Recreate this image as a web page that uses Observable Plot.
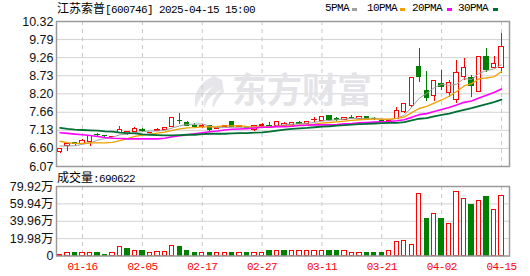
<!DOCTYPE html>
<html><head><meta charset="utf-8">
<script src="https://cdn.jsdelivr.net/npm/d3@7"></script>
<script src="https://cdn.jsdelivr.net/npm/@observablehq/plot@0.6"></script>
<style>
html,body{margin:0;padding:0;background:#fff;}
#wrap{position:relative;width:530px;height:276px;overflow:hidden;background:#fff;}
.abs{position:absolute;white-space:nowrap;line-height:14px;color:#000;z-index:4;}
.mono{font-family:"Liberation Mono",monospace;font-size:11px;letter-spacing:-0.6px;}
.cjk{font-family:"Noto Sans CJK SC",sans-serif;font-size:12px;}
.sw{position:absolute;width:5px;height:3px;top:8px;z-index:4;}
#p1,#p2{position:absolute;left:0;}
#p1{top:0;z-index:3}#p2{top:170px;z-index:2}
#p1 svg,#p2 svg{display:block;background:transparent !important;}
#logo{position:absolute;left:0;top:0;z-index:1;}
#p2 g[aria-label="x-axis tick label"] text{letter-spacing:-0.6px;}
</style></head>
<body>
<div id="wrap">
  <svg id="logo" width="530" height="276"><path d="M214,76 C200,82 192,94 196,108 C199,98 205,90 214,86 C206,92 202,100 204,108 C208,98 214,92 222,90 C214,96 211,102 213,108 C218,98 222,94 224,92 L222,80 Z" fill="#e6e6ea"/></svg>
  <div class="abs" style="left:57px;top:1px;"><span class="cjk">江苏索普</span><span class="mono">[600746] 2025-04-15 15:00</span></div>
  <div class="abs mono" style="left:325px;top:1px;">5PMA</div><div class="sw" style="left:352px;background:#a0a0a0"></div>
  <div class="abs mono" style="left:367px;top:1px;">10PMA</div><div class="sw" style="left:400px;background:#f0a000"></div>
  <div class="abs mono" style="left:412px;top:1px;">20PMA</div><div class="sw" style="left:447px;background:#ff00ff"></div>
  <div class="abs mono" style="left:458px;top:1px;">30PMA</div><div class="sw" style="left:493px;background:#006f35"></div>
  <div class="abs" style="left:57px;top:170px;"><span class="cjk">成交量</span><span class="mono">:690622</span></div>
  <div id="p1"></div>
  <div id="p2"></div>
</div>
<script>
const dates = ["01-13","01-14","01-15","01-16","01-17","01-20","01-21","01-22","01-23","01-24","01-27",
"02-05","02-06","02-07","02-10","02-11","02-12","02-13","02-14","02-17","02-18","02-19","02-20","02-21","02-24","02-25","02-26","02-27","02-28",
"03-03","03-04","03-05","03-06","03-07","03-10","03-11","03-12","03-13","03-14","03-17","03-18","03-19","03-20","03-21","03-24","03-25","03-26","03-27","03-28","03-31",
"04-01","04-02","04-03","04-07","04-08","04-09","04-10","04-11","04-14","04-15"];
const tickDates = ["01-16","02-05","02-17","02-27","03-11","03-21","04-02","04-15"];
const priceTicks = [6.07,6.60,7.13,7.66,8.20,8.73,9.26,9.79,10.32];
const volTicks = [0,199800,399600,599400,799200];

const open  = [6.49,6.67,6.76,6.74,6.79,6.99,6.97,6.93,7.06,7.03, 7.08,7.13,7.05,7.11,7.15,7.24,7.41,7.35,7.27,7.24,
               7.27,7.18,7.22,7.36,7.22,7.19,7.15,7.27,7.26,7.25, 7.27,7.29,7.34,7.33,7.42,7.39,7.56,7.45,7.44,7.50,
               7.47,7.52,7.47,7.40,7.34,7.45,7.66,7.83,9.00,8.29, 8.14,8.50,8.22,8.03,8.69,8.67,8.25,9.29,8.95,8.95];
const close = [6.59,6.73,6.73,6.81,6.96,6.98,6.96,6.94,7.15,7.07, 7.16,7.11,7.06,7.15,7.19,7.50,7.39,7.25,7.22,7.25,
               7.15,7.19,7.26,7.23,7.27,7.17,7.25,7.28,7.25,7.36, 7.32,7.34,7.33,7.37,7.43,7.51,7.44,7.44,7.50,7.49,
               7.51,7.47,7.46,7.37,7.40,7.71,7.89,8.67,8.69,8.08, 8.58,8.39,8.51,8.82,8.96,8.44,9.29,8.90,9.06,9.58];
const high  = [6.60,6.74,6.77,6.86,6.96,7.03,6.97,6.95,7.24,7.07, 7.22,7.19,7.06,7.19,7.22,7.52,7.63,7.40,7.32,7.30,
               7.27,7.19,7.27,7.36,7.27,7.21,7.25,7.34,7.36,7.36, 7.36,7.37,7.39,7.38,7.51,7.51,7.56,7.51,7.50,7.56,
               7.51,7.55,7.51,7.45,7.40,7.81,7.93,8.67,9.54,8.85, 8.58,8.88,8.59,9.18,9.23,8.74,9.29,9.54,9.30,9.98];
const low   = [6.46,6.52,6.67,6.74,6.67,6.93,6.92,6.93,7.06,6.98, 7.08,7.06,7.05,7.11,7.12,7.24,7.30,7.25,7.22,7.17,
               7.10,7.15,7.22,7.23,7.22,7.15,7.10,7.20,7.24,7.25, 7.27,7.29,7.30,7.33,7.37,7.39,7.40,7.40,7.44,7.44,
               7.47,7.47,7.43,7.37,7.34,7.45,7.61,7.79,8.52,7.98, 7.98,8.30,8.08,7.91,8.59,8.10,8.25,8.83,8.93,8.79];
const ma5  = [6.67,6.67,6.68,6.72,6.76,6.84,6.89,6.93,7.00,7.02, 7.06,7.09,7.11,7.11,7.13,7.20,7.26,7.30,7.31,7.32,
              7.25,7.21,7.21,7.22,7.22,7.22,7.24,7.24,7.24,7.26, 7.29,7.31,7.32,7.34,7.36,7.40,7.42,7.44,7.46,7.48,
              7.48,7.48,7.49,7.46,7.44,7.48,7.57,7.81,8.07,8.21, 8.38,8.48,8.45,8.48,8.65,8.62,8.80,8.88,8.93,9.05];
const ma10 = [6.81,6.77,6.75,6.75,6.76,6.76,6.76,6.78,6.83,6.89, 6.95,6.99,7.02,7.05,7.08,7.13,7.17,7.20,7.21,7.23,
              7.23,7.24,7.26,7.26,7.27,7.24,7.22,7.23,7.23,7.24, 7.26,7.27,7.28,7.29,7.31,7.34,7.36,7.38,7.40,7.42,
              7.44,7.45,7.46,7.46,7.46,7.48,7.52,7.65,7.77,7.83, 7.93,8.02,8.13,8.27,8.43,8.50,8.64,8.67,8.70,8.85];
const ma20 = [7.06,7.04,7.02,7.00,6.98,6.95,6.92,6.90,6.89,6.88, 6.88,6.88,6.88,6.88,6.90,6.94,6.97,7.00,7.03,7.06,
              7.09,7.11,7.14,7.16,7.17,7.18,7.20,7.22,7.22,7.24, 7.24,7.25,7.27,7.28,7.29,7.29,7.29,7.30,7.32,7.33,
              7.35,7.36,7.37,7.38,7.39,7.41,7.44,7.51,7.59,7.62, 7.68,7.74,7.80,7.87,7.95,7.99,8.08,8.16,8.24,8.34];
const ma30 = [7.20,7.17,7.15,7.14,7.13,7.12,7.10,7.09,7.06,7.05, 7.04,7.01,7.00,6.99,6.98,6.98,6.99,7.00,7.00,7.02,
              7.03,7.03,7.03,7.04,7.05,7.05,7.06,7.07,7.09,7.12, 7.15,7.17,7.19,7.20,7.22,7.24,7.25,7.27,7.28,7.30,
              7.31,7.32,7.33,7.34,7.35,7.35,7.37,7.42,7.47,7.49, 7.54,7.58,7.62,7.68,7.73,7.78,7.84,7.90,7.96,8.03];
const volume = [17000,37000,29000,37000,37000,29000,17000,29000,106000,86000,
                60000,52000,29000,48000,48000,117000,98000,63000,40000,37000,
                29000,29000,37000,40000,37000,40000,37000,37000,52000,52000,
                52000,52000,52000,52000,63000,52000,52000,52000,52000,37000,
                37000,29000,29000,40000,52000,162000,176000,130000,717000,431000,
                487000,431000,372000,740000,660000,582000,636000,684000,533000,690622];
const volUp = [1,1,0,1,1,0,0,1,1,0, 1,0,1,1,1,1,0,0,0,1, 0,1,1,0,1,0,1,1,0,1,
               0,1,1,1,1,1,0,0,1,1, 1,0,0,0,1,1,1,1,1,0, 1,0,1,1,1,0,1,0,1,1];

const RED = "#ff0000", GREEN = "#008000";
const idx = d3.range(dates.length);
const tickIdx = tickDates.map(d => dates.indexOf(d));
const xScale = {domain: [-0.48, 60.07]};
const hw = 0.29;
const up = i => close[i] >= open[i];

const p1 = Plot.plot({
  width: 530, height: 180,
  marginLeft: 56, marginRight: 21, marginTop: 21, marginBottom: 14,
  x: {...xScale, axis: null},
  y: {domain: [6.07, 10.32], axis: null},
  style: {fontFamily: "'Liberation Sans', 'Noto Sans CJK SC', sans-serif", fontSize: "12.5px", color: "#111", background: "transparent"},
  marks: [
    Plot.ruleY(priceTicks, {stroke: "#d2d2d2", strokeWidth: 1}),
    Plot.ruleX(tickIdx, {stroke: "#c8c8c8", strokeDasharray: "4,4"}),
    Plot.text(["东方财富"], {frameAnchor: "middle", dx: 19, dy: -2, fontSize: 35, fontWeight: "bold", fill: "#e4e4e8", fontFamily: "'Noto Sans CJK SC', sans-serif"}),
    Plot.ruleX(idx, {x: i => i, y1: i => low[i], y2: i => high[i], stroke: i => up(i) ? RED : GREEN, strokeWidth: 1, shapeRendering: "crispEdges"}),
    Plot.rect(idx, {x1: i => i - hw, x2: i => i + hw, y1: i => open[i], y2: i => close[i],
      fill: i => up(i) ? "#fff" : GREEN, stroke: i => up(i) ? RED : GREEN, strokeWidth: 1, shapeRendering: "crispEdges"}),
    Plot.line(idx, {x: i => i, y: i => ma5[i], stroke: "#a0a0a0", strokeWidth: 1}),
    Plot.line(idx, {x: i => i, y: i => ma10[i], stroke: "#f0a000", strokeWidth: 1.3}),
    Plot.line(idx, {x: i => i, y: i => ma20[i], stroke: "#ff00ff", strokeWidth: 1.6}),
    Plot.line(idx, {x: i => i, y: i => ma30[i], stroke: "#006f35", strokeWidth: 1.8}),
    Plot.frame({stroke: "#9a9a9a", strokeWidth: 1.5}),
    Plot.axisY(priceTicks, {tickFormat: d => d.toFixed(2), tickSize: 0, tickPadding: 3})
  ]
});
document.getElementById("p1").appendChild(p1);

const p2 = Plot.plot({
  width: 530, height: 106,
  marginLeft: 56, marginRight: 21, marginTop: 16, marginBottom: 20.5,
  x: {...xScale, axis: null},
  y: {domain: [0, 799200], axis: null},
  style: {fontFamily: "'Liberation Sans', 'Noto Sans CJK SC', sans-serif", fontSize: "12.5px", color: "#111", background: "transparent"},
  marks: [
    Plot.ruleY(volTicks, {stroke: "#d2d2d2", strokeWidth: 1}),
    Plot.ruleX(tickIdx, {stroke: "#c8c8c8", strokeDasharray: "4,4"}),
    Plot.rect(idx, {x1: i => i - hw, x2: i => i + hw, y1: () => 0, y2: i => volume[i],
      fill: i => volUp[i] ? "#fff" : GREEN, stroke: i => volUp[i] ? RED : GREEN, strokeWidth: 1, shapeRendering: "crispEdges"}),
    Plot.frame({stroke: "#9a9a9a", strokeWidth: 1.5}),
    Plot.axisY(volTicks, {tickFormat: d => d === 0 ? "0" : (d / 10000).toFixed(2) + "万", tickSize: 0, tickPadding: 3}),
    Plot.axisX(tickIdx, {tickFormat: i => dates[i], tickSize: 0, tickPadding: 6, fill: RED, fontFamily: "'Liberation Mono', monospace", fontSize: 11})
  ]
});
document.getElementById("p2").appendChild(p2);
</script>
</body></html>
